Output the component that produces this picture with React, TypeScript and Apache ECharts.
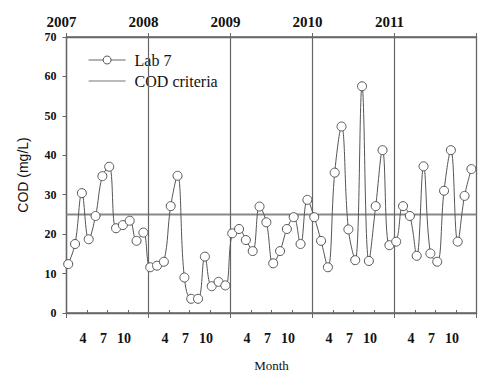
import React, { useEffect, useRef } from "react";
import * as echarts from "echarts";

const years = [2007, 2008, 2009, 2010, 2011];
const cod2007 = [12.4, 17.5, 30.4, 18.7, 24.6, 34.7, 37.1, 21.5, 22.3, 23.4, 18.3, 20.4];
const cod2008 = [11.6, 12.0, 13.0, 27.1, 34.8, 9.0, 3.6, 3.6, 14.3, 6.8, 7.9, 7.0];
const cod2009 = [20.2, 21.3, 18.5, 15.7, 27.0, 23.0, 12.6, 15.7, 21.3, 24.3, 17.5, 28.7];
const cod2010 = [24.3, 18.3, 11.6, 35.6, 47.3, 21.2, 13.4, 57.5, 13.2, 27.1, 41.3, 17.2];
const cod2011 = [18.1, 27.1, 24.6, 14.5, 37.2, 15.1, 13.0, 31.0, 41.3, 18.1, 29.7, 36.5];
const yearValues = [cod2007, cod2008, cod2009, cod2010, cod2011];
const criterion = 25;
const yearLines = [2008, 2009, 2010, 2011];
const monthLabels = ["", "4", "7", "10"];

const SERIF = "'Liberation Serif', 'Times New Roman', serif";
const SANS = "'Liberation Sans', Arial, sans-serif";

export default function App() {
  const ref = useRef<HTMLDivElement>(null);
  useEffect(() => {
    if (!ref.current) return;
    const chart = echarts.init(ref.current, null, { renderer: "svg" });
    const labData: number[][] = [];
    years.forEach((y, yi) => {
      yearValues[yi].forEach((v, i) => {
        labData.push([y + (i + 0.25) / 12, v]);
      });
    });
    const axisColor = "#666";
    chart.setOption({
      animation: false,
      backgroundColor: "#fff",
      grid: {
        left: 66.5,
        right: 1.5,
        top: 37,
        bottom: 60,
        show: true,
        borderColor: axisColor,
        borderWidth: 1.3,
        outerBoundsMode: "none",
        containLabel: false,
      },
      legend: {
        orient: "vertical",
        left: 83,
        top: 47,
        itemWidth: 37,
        itemHeight: 10,
        itemGap: 5,
        textStyle: {
          fontFamily: SERIF,
          fontSize: 16,
          color: "#111",
          padding: [0, 0, 0, 4],
        },
        data: [
          {
            name: "Lab 7",
            lineStyle: { color: "#666", width: 1 },
            itemStyle: { color: "#fff", borderColor: "#555", borderWidth: 1 },
          },
          { name: "COD criteria", itemStyle: { opacity: 0 }, lineStyle: { color: "#777", width: 1.2 } },
        ],
      },
      xAxis: [
        {
          type: "value",
          position: "bottom",
          min: 2007,
          max: 2012,
          interval: 0.25,
          axisLine: { show: true, lineStyle: { color: axisColor, width: 1.3 } },
          axisTick: { show: true, inside: true, length: 3, lineStyle: { color: axisColor } },
          splitLine: { show: false },
          axisLabel: {
            margin: 18,
            fontFamily: SERIF,
            fontWeight: "bold",
            fontSize: 14,
            color: "#111",
            padding: [0, 8, 0, 0],
            formatter: (v: number) => {
              const q = Math.round((v - Math.floor(v)) * 4);
              return monthLabels[q] || "";
            },
          },
          name: "Month",
          nameLocation: "middle",
          nameGap: 46,
          nameTextStyle: { fontFamily: SERIF, fontSize: 13, color: "#111" },
        },
        {
          type: "value",
          position: "top",
          min: 2007,
          max: 2012,
          interval: 1,
          axisLine: { show: true, lineStyle: { color: axisColor, width: 1.3 } },
          axisTick: { show: true, inside: false, length: 4, lineStyle: { color: axisColor } },
          splitLine: { show: false },
          axisLabel: {
            margin: 8,
            fontFamily: SERIF,
            fontWeight: "bold",
            fontSize: 15,
            color: "#111",
            padding: [0, 10, 0, 0],
            formatter: (v: number) => (v >= 2012 ? "" : String(v)),
          },
        },
        {
          type: "value",
          position: "bottom",
          min: 2007,
          max: 2012,
          interval: 1,
          axisLine: { show: false },
          axisTick: { show: true, inside: false, length: 5, lineStyle: { color: axisColor } },
          splitLine: { show: false },
          axisLabel: { show: false },
        },
      ],
      yAxis: {
        type: "value",
        min: 0,
        max: 70,
        interval: 10,
        axisLine: { show: true, lineStyle: { color: axisColor, width: 1.3 } },
        axisTick: { show: true, inside: false, length: 4, lineStyle: { color: axisColor } },
        splitLine: { show: false },
        axisLabel: {
          margin: 10,
          fontFamily: SERIF,
          fontWeight: "bold",
          fontSize: 12,
          color: "#111",
        },
        name: "COD (mg/L)",
        nameLocation: "middle",
        nameRotate: 90,
        nameGap: 37,
        nameTextStyle: { fontFamily: SANS, fontSize: 14, color: "#111" },
      },
      series: [
        {
          name: "Lab 7",
          type: "line",
          xAxisIndex: 0,
          data: labData,
          smooth: 0.4,
          symbol: "circle",
          symbolSize: 9,
          lineStyle: { color: "#555", width: 1 },
          itemStyle: { color: "#fff", borderColor: "#555", borderWidth: 1 },
          z: 5,
        },
        {
          name: "COD criteria",
          type: "line",
          xAxisIndex: 0,
          data: [
            [2007, criterion],
            [2012, criterion],
          ],
          symbol: "none",
          lineStyle: { color: "#888", width: 2 },
          itemStyle: { color: "#777" },
          z: 3,
          markLine: {
            silent: true,
            symbol: "none",
            label: { show: false },
            lineStyle: { color: axisColor, width: 1.2, type: "solid" },
            data: yearLines.map((y) => ({ xAxis: y })),
          },
        },
      ],
    });
    return () => chart.dispose();
  }, []);
  return (
    <div
      ref={ref}
      style={{ position: "fixed", left: 0, top: 0, width: 478, height: 373, background: "#fff" }}
    />
  );
}
